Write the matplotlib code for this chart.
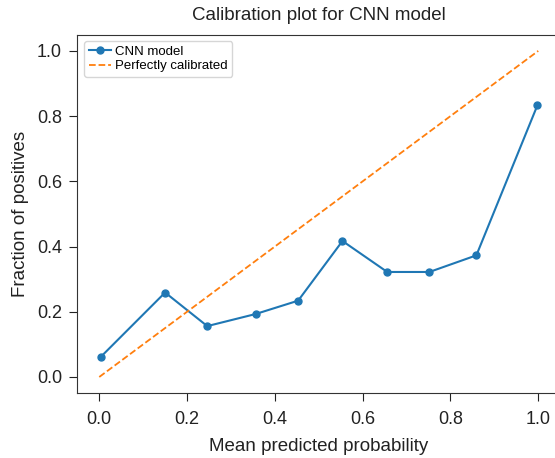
import matplotlib
matplotlib.use("Agg")
import matplotlib.pyplot as plt

mean_predicted = [0.003, 0.150, 0.246, 0.356, 0.453, 0.554, 0.656, 0.752, 0.859, 0.998]
fraction_positives = [0.061, 0.259, 0.156, 0.193, 0.234, 0.417, 0.322, 0.322, 0.373, 0.833]
diag = [0, 1]

plt.rcParams['font.family'] = ['Liberation Sans', 'DejaVu Sans']

fig = plt.figure(figsize=(5.55, 4.58), dpi=100)
ax = fig.add_axes([0.1393, 0.1413, 1.0094 - 0.1393, 0.9245 - 0.1413])

ax.plot(mean_predicted, fraction_positives, marker='o', markersize=5, color='#1f77b4',
        linewidth=1.5, label='CNN model')
ax.plot(diag, diag, linestyle='--', color='#ff7f0e', linewidth=1.3, label='Perfectly calibrated')

ax.set_xlim(-0.05, 1.05)
ax.set_ylim(-0.05, 1.05)
ax.set_xticks([0.0, 0.2, 0.4, 0.6, 0.8, 1.0])
ax.set_yticks([0.0, 0.2, 0.4, 0.6, 0.8, 1.0])
ax.tick_params(labelsize=13, colors='#222222', length=6)
ax.tick_params(axis='x', pad=6.5)
ax.tick_params(axis='y', pad=5)
ax.set_xlabel('Mean predicted probability', fontsize=13.5, color='#222222', labelpad=7.5)
ax.set_ylabel('Fraction of positives', fontsize=13.5, color='#222222', labelpad=6)
ax.set_title('Calibration plot for CNN model', fontsize=13.5, color='#222222', pad=10.5)
for s in ax.spines.values():
    s.set_color('#333333')
leg = ax.legend(loc='upper left', fontsize=9.5, handlelength=1.7, borderpad=0.35,
                labelspacing=0.15, handletextpad=0.3)

fig.savefig('out.png', dpi=100)
